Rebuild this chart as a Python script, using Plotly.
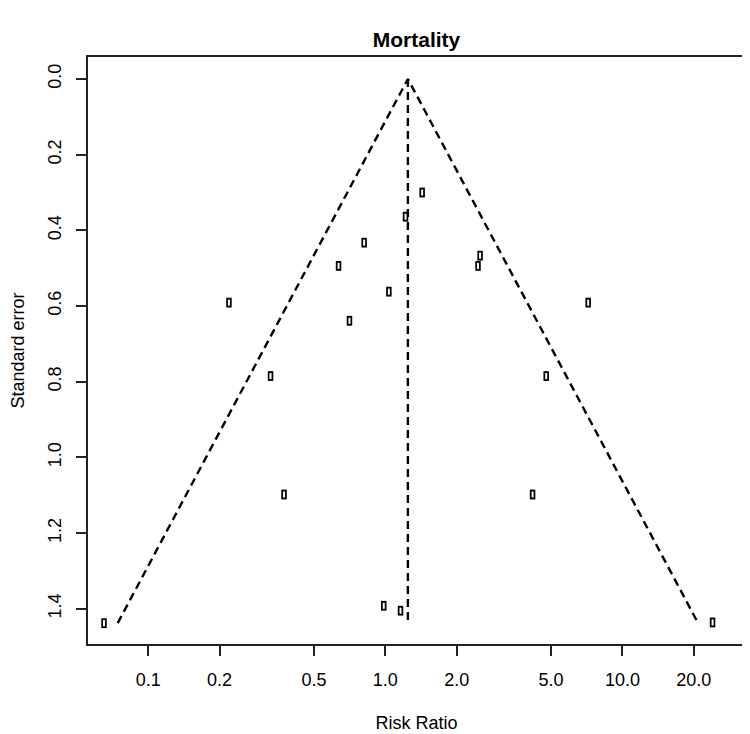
import numpy as np
import plotly.graph_objects as go

# ---- data ----
risk_ratio = [1.43, 1.217, 0.814, 0.635, 1.035, 0.706, 0.219, 2.51, 2.46, 7.17,
              0.328, 4.77, 0.374, 4.18, 0.0651, 0.985, 1.159, 24.0]
std_error = [0.300, 0.364, 0.4325, 0.494, 0.562, 0.639, 0.591, 0.467, 0.494, 0.591,
             0.785, 0.785, 1.098, 1.098, 1.438, 1.392, 1.405, 1.436]
pooled_rr = 1.245
x_tick_vals = [0.1, 0.2, 0.5, 1.0, 2.0, 5.0, 10.0, 20.0]
x_tick_text = ["0.1", "0.2", "0.5", "1.0", "2.0", "5.0", "10.0", "20.0"]
y_tick_vals = [0.0, 0.2, 0.4, 0.6, 0.8, 1.0, 1.2, 1.4]
y_tick_text = ["0.0", "0.2", "0.4", "0.6", "0.8", "1.0", "1.2", "1.4"]

se_max = max(std_error)
lo = pooled_rr * np.exp(-1.96 * se_max)
hi = pooled_rr * np.exp(1.96 * se_max)

FONT = "Liberation Sans, Arial, Helvetica, sans-serif"
dash = "8px,5px"

fig = go.Figure()
# funnel lines
fig.add_trace(go.Scatter(x=[lo, pooled_rr, hi], y=[se_max, 0, se_max], mode="lines",
                         line=dict(color="black", width=2.4, dash=dash),
                         showlegend=False, hoverinfo="skip"))
fig.add_trace(go.Scatter(x=[pooled_rr, pooled_rr], y=[0, se_max], mode="lines",
                         line=dict(color="black", width=2.4, dash=dash),
                         showlegend=False, hoverinfo="skip"))
# study markers: narrow hollow rectangles (black bar with white core)
fig.add_trace(go.Scatter(x=risk_ratio, y=std_error, mode="markers",
                         marker=dict(symbol="line-ns", size=7, color="black",
                                     line=dict(color="black", width=5.5)),
                         showlegend=False))
fig.add_trace(go.Scatter(x=risk_ratio, y=std_error, mode="markers",
                         marker=dict(symbol="line-ns", size=4.3, color="white",
                                     line=dict(color="white", width=2.0)),
                         showlegend=False, hoverinfo="skip"))

axis_common = dict(showline=True, mirror=True, linecolor="#222222", linewidth=1.5,
                   ticks="outside", ticklen=10, tickwidth=1.5, tickcolor="#222222",
                   showgrid=False, zeroline=False, automargin=False,
                   tickfont=dict(family=FONT, size=18, color="black"))

fig.update_xaxes(type="log", range=[-1.254, 1.517],
                 tickvals=x_tick_vals, ticktext=x_tick_text,
                 title=dict(text="Risk Ratio", font=dict(family=FONT, size=18, color="black"),
                            standoff=27),
                 ticklabelstandoff=9, **axis_common)
fig.update_yaxes(range=[1.493, -0.058], tickvals=y_tick_vals, ticktext=y_tick_text,
                 tickangle=-90,
                 title=dict(text="Standard error", font=dict(family=FONT, size=18, color="black"),
                            standoff=24),
                 ticklabelstandoff=8, **axis_common)

# the page body adds an 8px offset, so the figure is sized to fill the window exactly
fig.update_layout(
    width=742, height=726,
    margin=dict(l=80, r=5, t=49, b=90),
    paper_bgcolor="white", plot_bgcolor="white",
    title=dict(text="<b>Mortality</b>", x=0.5, xanchor="center", xref="paper",
               y=0.956, yanchor="middle",
               font=dict(family=FONT, size=21, color="black")),
)

fig.write_html("out.html")
